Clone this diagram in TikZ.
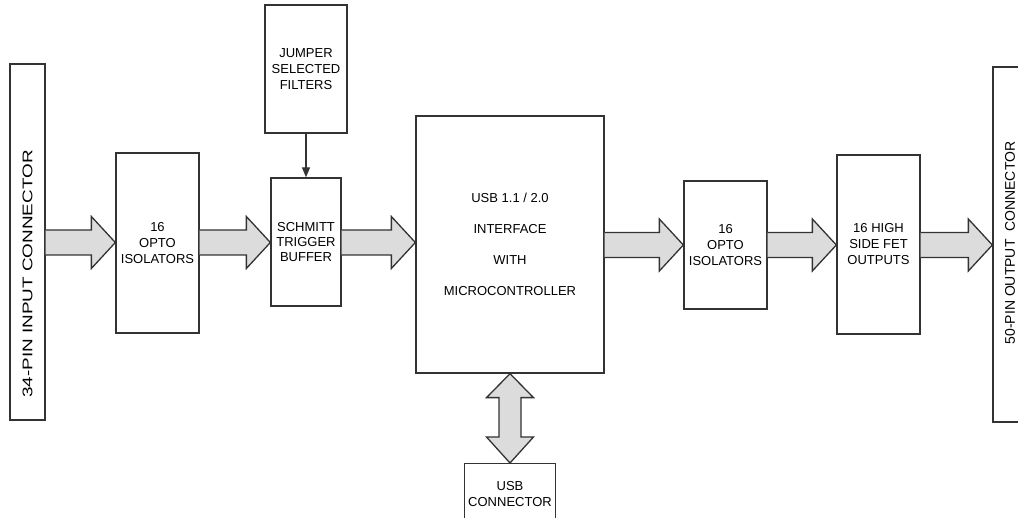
\documentclass[tikz,border=0pt]{standalone}
\usepackage{fontspec}
\setmainfont{Liberation Sans}
\usetikzlibrary{arrows.meta,calc}
\definecolor{ln}{HTML}{333333}
\definecolor{af}{HTML}{DCDCDC}
\newcommand\blockarrow[3]{%
  \draw[fat] ($(#1.east|-0,#3)+(0,-12.5)$) -- ($(#2.west|-0,#3)+(-24,-12.5)$)
    -- ($(#2.west|-0,#3)+(-24,-26)$) -- (#2.west|-0,#3)
    -- ($(#2.west|-0,#3)+(-24,26)$) -- ($(#2.west|-0,#3)+(-24,12.5)$)
    -- ($(#1.east|-0,#3)+(0,12.5)$);}
\begin{document}
\begin{tikzpicture}[x=1pt,y=-1pt,
  box/.style={draw=ln, line width=1.3pt, fill=white, inner sep=0pt, align=center,
    font=\fontsize{13}{16}\selectfont},
  fat/.style={draw=ln, line width=1.3pt, fill=af, line join=miter},
  vtext/.style={rotate=90, inner sep=0pt, font=\fontsize{14}{16}\selectfont}]
\useasboundingbox (0,0) rectangle (1018,518);
% boxes
\node[box, minimum width=35, minimum height=356] (in) at (27.5,242) {};
\node[vtext] (intext) at (27.5,274) {\scalebox{1.35}[1]{34-PIN INPUT CONNECTOR}};
\node[box, minimum width=83, minimum height=180] (opto1) at (157.5,243) {16\\OPTO\\ISOLATORS};
\node[box, minimum width=82, minimum height=128] (jump) at (306,69) {JUMPER\\SELECTED\\FILTERS};
\node[box, minimum width=70, minimum height=128, font=\fontsize{13}{15}\selectfont] (schmitt) at (306,242) {SCHMITT\\TRIGGER\\BUFFER};
\node[box, minimum width=188, minimum height=257, font=\fontsize{13}{31}\selectfont] (micro) at (510,244.5) {USB 1.1 / 2.0\\INTERFACE\\WITH\\MICROCONTROLLER};
\node[box, anchor=north, minimum width=91, minimum height=60] (usb) at (510,463) {USB\\CONNECTOR};
\node[box, minimum width=83, minimum height=128] (opto2) at (725.5,245) {16\\OPTO\\ISOLATORS};
\node[box, minimum width=83, minimum height=179] (fet) at (878.5,244.5) {16 HIGH\\SIDE FET\\OUTPUTS};
\node[box, minimum width=37, minimum height=355] (out) at (1011.5,244.5) {};
\node[vtext] (outtext) at (1010,243) {50-PIN OUTPUT\ \ CONNECTOR};
% block arrows
\blockarrow{in}{opto1}{242.5}
\blockarrow{opto1}{schmitt}{242.5}
\blockarrow{schmitt}{micro}{242.5}
\blockarrow{micro}{opto2}{245}
\blockarrow{opto2}{fet}{245}
\blockarrow{fet}{out}{245}
% USB double arrow
\draw[fat] (micro.south) -- ($(micro.south)+(23.5,24)$) -- ($(micro.south)+(11,24)$)
  -- ($(usb.north)+(11,-26)$) -- ($(usb.north)+(23.5,-26)$) -- (usb.north)
  -- ($(usb.north)+(-23.5,-26)$) -- ($(usb.north)+(-11,-26)$)
  -- ($(micro.south)+(-11,24)$) -- ($(micro.south)+(-23.5,24)$) -- cycle;
% jumper to schmitt
\draw[draw=ln, line width=1.3pt, -{Triangle[length=10pt,width=8pt]}] (jump.south) -- (schmitt.north);
\end{tikzpicture}
\end{document}
